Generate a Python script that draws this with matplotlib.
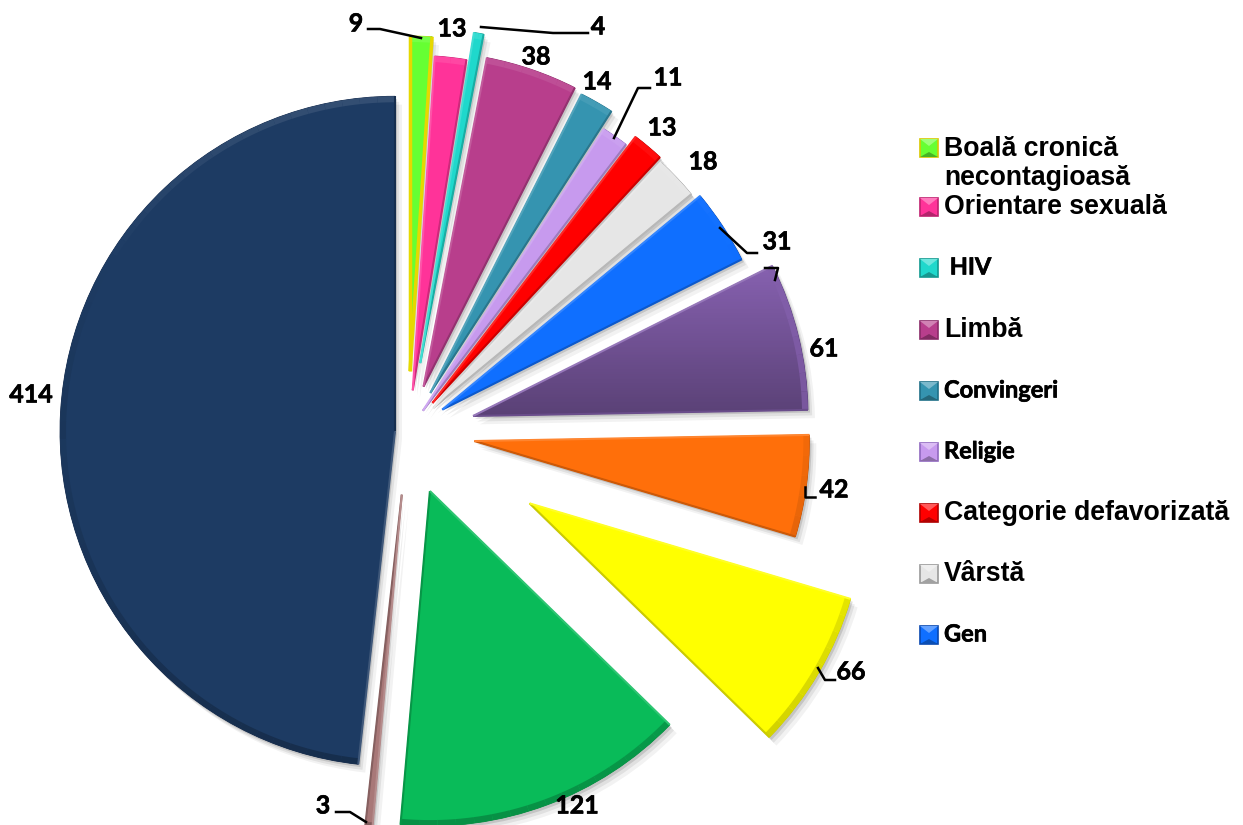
import matplotlib
matplotlib.use("Agg")
import numpy as np
import matplotlib.pyplot as plt
from matplotlib.patches import Wedge, Rectangle, Polygon
import matplotlib.patheffects as pe
from matplotlib.colors import to_rgb

W, H = 1243, 825
values = [9, 13, 4, 38, 14, 11, 13, 18, 31, 61, 42, 66, 121, 3, 414]
colors = ['#66FF33', '#FF3399', '#1FD8CC', '#B83E8C', '#3594B0', '#C79AEE', '#FF0000',
          '#E6E6E6', '#0F6FFF', '#8560AE', '#FF6F0A', '#FFFF00', '#09BB59', '#A87878', '#1D3B63']
edges = ['#D8C800', '#C02070', '#109A90', '#8A2A68', '#1F6F88', '#9068C0', '#B00000',
         '#999999', '#0848B0', '#5A3E80', '#B84A00', '#C8C800', '#078A40', '#704848', '#14294A']
offsets = [61, 42, 70, 48, 45, 26, 38, 35, 41, 67, 67, 141, 63, 63, 13]
legend_labels = ['Boală cronică\nnecontagioasă', 'Orientare sexuală', ' HIV', 'Limbă', 'Convingeri',
                 'Religie', 'Categorie defavorizată', 'Vârstă', 'Gen']
legend_y = [148, 207, 268, 330, 391, 452, 513, 574, 635]
legend_font = ['Liberation Sans', 'Liberation Sans', 'Lato', 'Liberation Sans', 'Lato',
               'Lato', 'Liberation Sans', 'Liberation Sans', 'Lato']
label_pos = [(356, 24), (452, 29), (598, 27), (536, 57), (597, 82), (668, 78), (662, 128), (703, 162),
             (777, 242), (824, 349), (834, 490), (851, 672), (577, 806), (323, 806), (31, 395)]
leaders = [[(368, 29), (380, 29), (421, 38)],
           [(481, 27), (553, 33), (588, 33)],
           [(614, 138), (638, 88), (650, 88)],
           [(720, 228), (747, 253), (757, 253)],
           [(765, 268), (778, 268), (775, 280)],
           [(805, 487), (805, 497), (815, 497)],
           [(818, 668), (825, 680), (835, 680)],
           [(336, 812), (350, 812), (366, 822)]]

CX, CY, R = 408, 432, 335

def Y(y):
    return H - y

def shade(c, f):
    c = np.array(to_rgb(c))
    return tuple(c + (1 - c) * f) if f > 0 else tuple(c * (1 + f))

fig = plt.figure(figsize=(W / 100, H / 100), dpi=100)
ax = fig.add_axes([0, 0, 1, 1])
# pie() moves each slice by its explode value in data units, so the pixel offsets go in directly
wedges, _ = ax.pie(values, explode=offsets, colors=colors, startangle=90, counterclock=False,
                   center=(CX, Y(CY)), radius=R,
                   wedgeprops=dict(linewidth=0.6))

for w, c, e in zip(wedges, colors, edges):
    w.set_edgecolor(e)
    w.set_path_effects([pe.SimplePatchShadow(offset=(5, -6), shadow_rgbFace='k', alpha=0.05),
                        pe.SimplePatchShadow(offset=(3, -4), shadow_rgbFace='k', alpha=0.07),
                        pe.SimplePatchShadow(offset=(1.5, -2), shadow_rgbFace='k', alpha=0.12),
                        pe.Normal()])
    span = w.theta2 - w.theta1
    # rim bevel along the outer arc, lit from above
    n = max(2, int(span / 3))
    ts = np.linspace(w.theta1, w.theta2, n + 1)
    for a, b in zip(ts[:-1], ts[1:]):
        s = np.sin(np.radians((a + b) / 2))
        f = 0.20 * s - 0.10 if s > 0 else 0.18 * s - 0.05
        ax.add_patch(Wedge(w.center, w.r, a, b, width=6, facecolor=shade(c, f), edgecolor='none',
                           zorder=w.get_zorder() + 0.1))
    cx, cy = w.center
    for th, f in ((w.theta1, -0.2), (w.theta2, 0.15)):
        t = np.radians(th)
        ax.plot([cx, cx + w.r * np.cos(t)], [cy, cy + w.r * np.sin(t)], color=shade(c, f), lw=1.5,
                solid_capstyle='butt', zorder=w.get_zorder() + 0.2)
    if c == '#66FF33':
        for th in (w.theta1, w.theta2):
            t = np.radians(th)
            ax.plot([cx, cx + w.r * np.cos(t)], [cy, cy + w.r * np.sin(t)], color='#E6D800', lw=2.5,
                    solid_capstyle='butt', zorder=w.get_zorder() + 0.3)

# darkening toward the bottom of the purple slice
purple = wedges[9]
grad = np.zeros((64, 2, 4))
grad[..., 3] = np.linspace(0, 0.32, 64)[:, None]
bx = purple.get_window_extent()
im = ax.imshow(grad, extent=(470, 815, Y(415), Y(270)), origin='upper', aspect='auto',
               zorder=purple.get_zorder() + 0.05)
im.set_clip_path(purple)

ax.set_xlim(0, W)
ax.set_ylim(0, H)
ax.set_aspect('equal')
ax.axis('off')

for pts in leaders:
    ax.plot([p[0] for p in pts], [Y(p[1]) for p in pts], color='black', lw=1.8, zorder=6)

bold_stroke = [pe.withStroke(linewidth=0.45, foreground='black')]
for v, (x, y) in zip(values, label_pos):
    ax.text(x, Y(y), str(v), ha='center', va='center', fontsize=18, fontweight='bold',
            family='Lato', color='black', zorder=7, path_effects=bold_stroke)

S = 18
for lab, y, fnt, c, e in zip(legend_labels, legend_y, legend_font, colors, edges):
    x0 = 920
    ax.add_patch(Rectangle((x0, Y(y + S / 2)), S, S, facecolor=c, edgecolor=e, lw=1.2, zorder=5))
    ax.add_patch(Polygon([(x0, Y(y - S / 2)), (x0 + S, Y(y - S / 2)), (x0 + S / 2, Y(y - 2))],
                         closed=True, facecolor=shade(c, 0.35), edgecolor='none', zorder=5.1))
    ax.add_patch(Polygon([(x0, Y(y + S / 2)), (x0 + S, Y(y + S / 2)), (x0 + S / 2, Y(y + 4))],
                         closed=True, facecolor=shade(c, -0.3), edgecolor='none', zorder=5.1))
    is_lato = fnt == 'Lato'
    eff = bold_stroke if is_lato else None
    if '\n' in lab:
        ax.text(944, Y(y - 12), lab, ha='left', va='top', fontsize=19.2, fontweight='bold', family=fnt,
                linespacing=1.15, zorder=7)
    else:
        ax.text(944, Y(y - 1 if is_lato else y), lab, ha='left', va='center', fontsize=17 if is_lato else 19.2,
                fontweight='bold', family=fnt, zorder=7, path_effects=eff)

fig.savefig('out.png', dpi=100, facecolor='white')
